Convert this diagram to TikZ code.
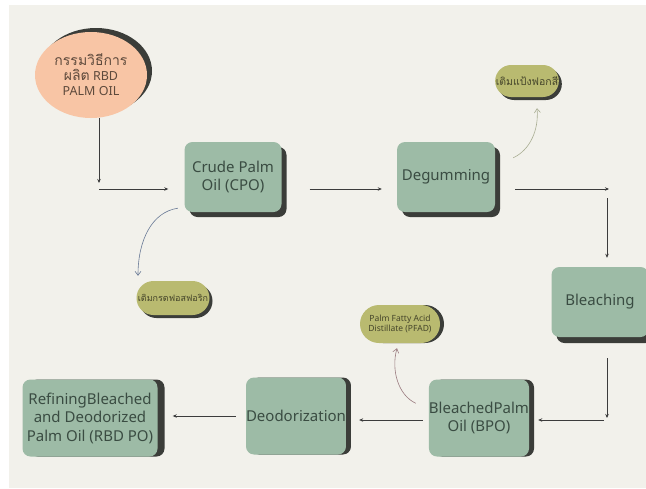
\documentclass[tikz,border=0pt]{standalone}
\usepackage{fontspec}
\setmainfont{Noto Sans}
\newfontfamily\thaifont[Script=Thai]{Loma}
\usetikzlibrary{positioning,shapes.geometric,shapes.misc,shadows,arrows.meta}
\definecolor{bgc}{HTML}{F2F1EB}
\definecolor{sage}{HTML}{9DBBA6}
\definecolor{boxtxt}{HTML}{3A4C42}
\definecolor{shdw}{HTML}{3B3D39}
\definecolor{peach}{HTML}{F8C5A5}
\definecolor{peachtxt}{HTML}{5E4A3C}
\definecolor{olive}{HTML}{B9BA70}
\definecolor{olivetxt}{HTML}{45452A}
\definecolor{arrc}{HTML}{3C3C3C}
\definecolor{bluec}{HTML}{6A7A96}
\definecolor{palec}{HTML}{A9AD92}
\definecolor{mauvec}{HTML}{9A7A7E}

\begin{document}
\begin{tikzpicture}[x=1pt,y=1pt,
		box/.style={rectangle,rounded corners=8pt,fill=sage,text=boxtxt,align=center,
			inner sep=0pt,font=\fontsize{15}{18.5}\selectfont},
		pill/.style={rounded rectangle,fill=olive,text=olivetxt,align=center,inner sep=0pt},
		shd/.style 2 args={general shadow={shadow xshift=#1,shadow yshift=#2,fill=shdw}},
		arr/.style={draw=arrc,line width=0.8pt,-{Stealth[length=4pt,width=3.5pt]}},
		curv/.style={line width=0.6pt,-{Straight Barb[length=4pt,width=6pt]}}]
		\useasboundingbox (0,0) rectangle (646,-488);
		\fill [bgc] (9,-5) rectangle (646,-488);
		% start
		\node [ellipse,fill=peach,text=peachtxt,align=center,inner sep=0pt,
			minimum width=112pt,minimum height=86pt,shd={5pt}{4pt},
			font=\fontsize{12.5}{15}\selectfont] (start) at (91,-75)
			{{\thaifont\fontsize{14}{15}\selectfont กรรมวิธีการ}\\{\thaifont\fontsize{14}{15}\selectfont ผลิต} RBD\\PALM OIL};
		% process boxes
		\node [box,minimum width=97pt,minimum height=70pt,shd={5pt}{-5pt}] (cpo) at (233,-177) {Crude Palm\\Oil (CPO)};
		\node [box,minimum width=98pt,minimum height=70pt,shd={5pt}{-5pt}] (deg) at (446,-177) {Degumming};
		\node [box,minimum width=97pt,minimum height=70pt,shd={5pt}{-6pt}] (bleach) at (600,-302) {Bleaching};
		\node [box,minimum width=98pt,minimum height=77pt,shd={5pt}{0pt}] (bpo) at (479,-418) {BleachedPalm\\Oil (BPO)};
		\node [box,minimum width=98pt,minimum height=77pt,shd={5pt}{0pt}] (deo) at (296,-416) {Deodorization};
		\node [box,minimum width=135pt,minimum height=77pt,shd={7pt}{0pt}] (rbd) at (90,-418) {RefiningBleached\\and Deodorized\\Palm Oil (RBD PO)};
		% side products
		\node [pill,minimum width=59pt,minimum height=32pt,shd={3pt}{-3pt},font=\thaifont\fontsize{10.5}{11}\selectfont] (earth) at (527,-81) {เติมแป้งฟอกสี};
		\node [pill,minimum width=73pt,minimum height=34pt,shd={3pt}{-3pt},font=\thaifont\fontsize{9}{10}\selectfont] (acid) at (173,-298) {เติมกรดฟอสฟอริก};
		\node [pill,minimum width=80pt,minimum height=38pt,shd={4pt}{0pt},font=\fontsize{8.5}{10}\selectfont] (pfad) at (400,-324) {Palm Fatty Acid\\Distillate (PFAD)};
		% main flow
		\coordinate (c1) at (99,-183);
		\coordinate (c2) at (99,-189);
		\coordinate (c3) at (609,-189);
		\coordinate (c4) at (607,-198);
		\coordinate (c5) at (607,-418);
		\coordinate (c6) at (604,-420);
		\draw [arr] (start.south -| c1) -- (c1);
		\draw [arr,shorten >=16pt] (c2) -- (c2 -| cpo.west);
		\draw [arr,shorten <=28pt,shorten >=15pt] ([yshift=-12pt]cpo.east) -- ([yshift=-12pt]deg.west);
		\draw [arr,shorten <=20pt] (c3 -| deg.east) -- (c3);
		\draw [arr,shorten >=9pt] (c4) -- (c4 |- bleach.north);
		\draw [arr,shorten <=21pt] (c5 |- bleach.south) -- (c5);
		\draw [arr,shorten >=9pt] (c6) -- (c6 -| bpo.east);
		\draw [arr,shorten <=6pt,shorten >=13pt] ([yshift=-2pt]bpo.west) -- ([yshift=-4pt]deo.east);
		\draw [arr,shorten <=10pt,shorten >=15pt] (deo.west) -- ([yshift=2pt]rbd.east);
		% by-products
		\draw [curv,bluec] ([shift={(-6.5pt,4pt)}]cpo.south west) .. controls (152,-212) and (138,-240) .. ([shift={(-35pt,5pt)}]acid.north);
		\draw [curv,palec] ([shift={(18pt,-16pt)}]deg.north east) .. controls (530,-150) and (539,-130) .. ([shift={(10pt,-11pt)}]earth.south);
		\draw [curv,mauvec] ([shift={(-13pt,-24pt)}]bpo.north west) .. controls (398,-395) and (391,-370) .. ([shift={(-3pt,-5pt)}]pfad.south);
\end{tikzpicture}
\end{document}
